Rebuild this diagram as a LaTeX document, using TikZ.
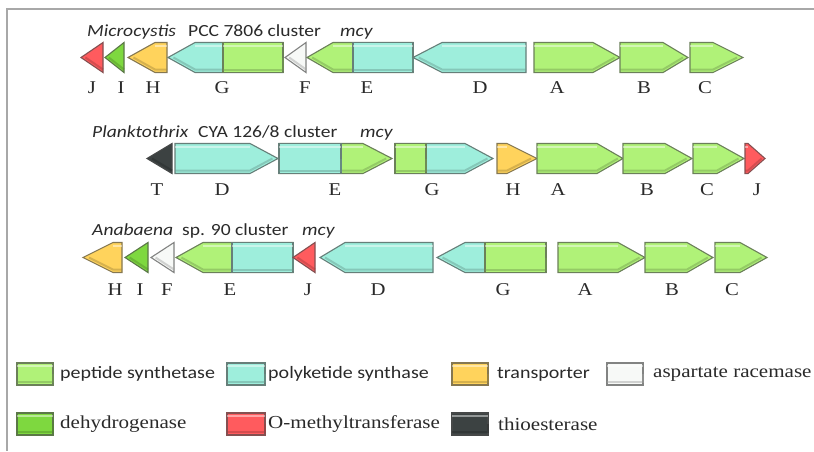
\documentclass[tikz,border=0pt]{standalone}
\usepackage{fontspec}
\newfontfamily\tsans[FakeStretch=1.15]{Carlito}
\newfontfamily\tserif[FakeStretch=1.15]{Liberation Serif}
\definecolor{pep}{HTML}{B0F278}
\definecolor{pks}{HTML}{9EEEDC}
\definecolor{trn}{HTML}{FFD35C}
\definecolor{asp}{HTML}{F7F9F7}
\definecolor{deh}{HTML}{7ED83F}
\definecolor{omt}{HTML}{FF5B5E}
\definecolor{thi}{HTML}{3C4242}
\definecolor{framec}{HTML}{A8A8A8}
\definecolor{ink}{HTML}{2A2A2A}
\tikzset{
  genefill/.style={fill=#1, draw=#1!40!black!80, line width=1.1pt, line join=miter},
  glabel/.style={font=\tserif\fontsize{18}{20}\selectfont, text=ink, anchor=base, inner sep=0pt},
  ttl/.style={font=\tsans\fontsize{17}{20}\selectfont, text=ink, anchor=base west, inner sep=0pt},
  ttli/.style={font=\tsans\itshape\fontsize{17}{20}\selectfont, text=ink, anchor=base west, inner sep=0pt},
  legs/.style={font=\tsans\fontsize{17.4}{20}\selectfont, text=ink, anchor=west, inner sep=0pt},
  legr/.style={font=\tserif\fontsize{18.3}{20}\selectfont, text=ink, anchor=west, inner sep=0pt},
}
% tail, head base, tip, y centre, colour, half height
\newcommand\genebox[6]{%
  \path[genefill=#5] (#1,#4-#6) -- (#2,#4-#6) -- (#3,#4) -- (#2,#4+#6) -- (#1,#4+#6) -- cycle;
  \draw[white, opacity=.45, line width=2pt] (#1,#4-#6+3) -- (#2,#4-#6+3);
  \draw[#5!65!black, opacity=.45, line width=2pt] (#1,#4+#6-3) -- (#2,#4+#6-3) -- ({#2+0.8*(#3-#2)},#4);
}
\newcommand\gene[5]{\genebox{#1}{#2}{#3}{#4}{#5}{15}}
\begin{document}
\begin{tikzpicture}[x=1pt,y=-1pt]
\useasboundingbox (0,0) rectangle (814,451);
\fill[white] (0,0) rectangle (814,451);
\draw[framec, line width=1.5pt] (814,9) -- (7,9) -- (7,451);

% ---------- Microcystis ----------
\node[ttli] (t1a) at (87,36) {Microcystis};
\node[ttl]  (t1b) at (188,36) {PCC 7806 cluster};
\node[ttli] (t1c) at (340,36) {mcy};
\gene{103}{103}{81}{57.5}{omt}
\gene{124}{124}{105}{57.5}{deh}
\gene{167}{155}{128}{57.5}{trn}
\gene{283}{195}{168}{57.5}{pks}
\gene{223}{283}{283}{57.5}{pep}
\gene{306}{306}{285}{57.5}{asp}
\gene{413}{333}{307}{57.5}{pep}
\gene{353}{413}{413}{57.5}{pks}
\gene{526}{442}{413}{57.5}{pks}
\gene{534}{593}{620}{57.5}{pep}
\gene{620}{663}{688}{57.5}{pep}
\gene{690}{713}{743}{57.5}{pep}
\node[glabel] (l1J) at (92,93) {J};
\node[glabel] (l1I) at (121,93) {I};
\node[glabel] (l1H) at (153,93) {H};
\node[glabel] (l1G) at (222,93) {G};
\node[glabel] (l1F) at (305,93) {F};
\node[glabel] (l1E) at (367,93) {E};
\node[glabel] (l1D) at (480,93) {D};
\node[glabel] (l1A) at (557,93) {A};
\node[glabel] (l1B) at (644,93) {B};
\node[glabel] (l1C) at (705,93) {C};

% ---------- Planktothrix ----------
\node[ttli] (t2a) at (92,137) {Planktothrix};
\node[ttl]  (t2b) at (198,137) {CYA 126/8 cluster};
\node[ttli] (t2c) at (360,137) {mcy};
\gene{172}{172}{147}{158.5}{thi}
\gene{175}{250}{278}{158.5}{pks}
\gene{279}{363}{392}{158.5}{pep}
\gene{279}{341}{341}{158.5}{pks}
\gene{395}{465}{493}{158.5}{pks}
\gene{395}{426}{426}{158.5}{pep}
\gene{497}{507}{537}{158.5}{trn}
\gene{537}{597}{623}{158.5}{pep}
\gene{623}{665}{692}{158.5}{pep}
\gene{693}{717}{744}{158.5}{pep}
\gene{745}{748}{765}{158.5}{omt}
\node[glabel] (l2T) at (157,195) {T};
\node[glabel] (l2D) at (222,195) {D};
\node[glabel] (l2E) at (335,195) {E};
\node[glabel] (l2G) at (432,195) {G};
\node[glabel] (l2H) at (513,195) {H};
\node[glabel] (l2A) at (558,195) {A};
\node[glabel] (l2B) at (647,195) {B};
\node[glabel] (l2C) at (707,195) {C};
\node[glabel] (l2J) at (757,195) {J};

% ---------- Anabaena ----------
\node[ttli] (t3a) at (92,235) {Anabaena};
\node[ttl]  (t3b) at (182,235) {sp. 90 cluster};
\node[ttli] (t3c) at (302,235) {mcy};
\gene{122}{113}{83}{257.5}{trn}
\gene{148}{148}{125}{257.5}{deh}
\gene{174}{174}{151}{257.5}{asp}
\gene{293}{203}{176}{257.5}{pep}
\gene{232}{293}{293}{257.5}{pks}
\gene{315}{315}{293}{257.5}{omt}
\gene{433}{345}{320}{257.5}{pks}
\gene{546}{465}{437}{257.5}{pks}
\gene{485}{546}{546}{257.5}{pep}
\gene{558}{618}{645}{257.5}{pep}
\gene{645}{687}{713}{257.5}{pep}
\gene{715}{740}{767}{257.5}{pep}
\node[glabel] (l3H) at (115,295) {H};
\node[glabel] (l3I) at (140,295) {I};
\node[glabel] (l3F) at (167,295) {F};
\node[glabel] (l3E) at (230,295) {E};
\node[glabel] (l3J) at (308,295) {J};
\node[glabel] (l3D) at (378,295) {D};
\node[glabel] (l3G) at (503,295) {G};
\node[glabel] (l3A) at (585,295) {A};
\node[glabel] (l3B) at (672,295) {B};
\node[glabel] (l3C) at (732,295) {C};

% ---------- legend ----------
\genebox{17}{53}{53}{374}{pep}{11}
\node[legs] (k1) at (60,374) {peptide synthetase};
\genebox{227}{265}{265}{374}{pks}{11}
\node[legs] (k2) at (268,374) {polyketide synthase};
\genebox{452}{488}{488}{374}{trn}{11}
\node[legs] (k3) at (497,374) {transporter};
\genebox{607}{643}{643}{374}{asp}{11}
\node[legr] (k4) at (653,374) {aspartate racemase};
\genebox{17}{53}{53}{424}{deh}{11}
\node[legr] (k5) at (60,424) {dehydrogenase};
\genebox{227}{265}{265}{424}{omt}{11}
\node[legr] (k6) at (268,424) {O-methyltransferase};
\genebox{452}{488}{488}{424}{thi}{11}
\node[legr] (k7) at (498,424) {thioesterase};
\end{tikzpicture}
\end{document}
